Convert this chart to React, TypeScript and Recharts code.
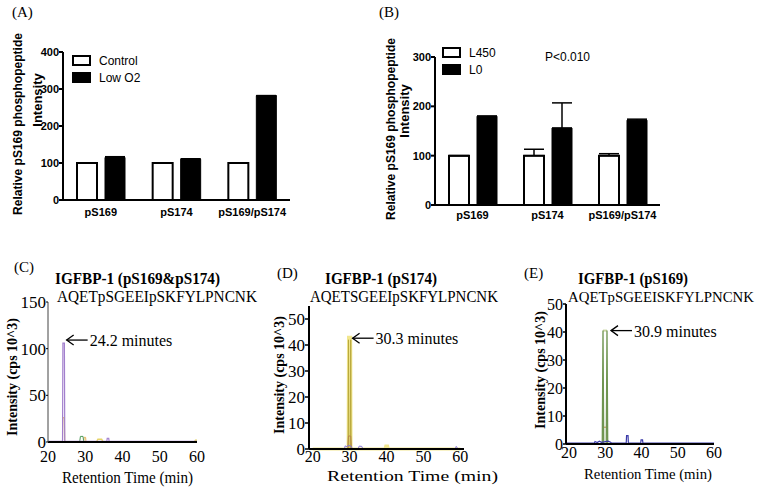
import React from "react";
import {
  BarChart,
  Bar,
  XAxis,
  YAxis,
  ErrorBar,
  Legend,
  LineChart,
  Line,
  ReferenceDot,
} from "recharts";

const SANS = '"Liberation Sans", Arial, sans-serif';
const SERIF = '"Liberation Serif", "Times New Roman", serif';

// bar panels
const BAR_CATEGORIES = ["pS169", "pS174", "pS169/pS174"];
const A_CONTROL = [100, 100, 100];
const A_LOW_O2 = [115, 110, 282];
const A_LOW_O2_ERR = [2, 1.5, 0];
const A_TICKS = [0, 100, 200, 300, 400];

const B_L450 = [100, 100, 100];
const B_L450_ERR = [0, 13, 4];
const B_L0 = [180, 156, 172];
const B_L0_ERR = [0, 51, 2];
const B_TICKS = [0, 100, 200, 300];

const SERIES_ORDER = ["control", "low", "l450", "l0"];

// chromatogram traces, [time (min), intensity (cps 10^3)]
type Pt = [number, number];
const C_PURPLE: Pt[] = [[20, 0.6], [23.9, 0.6], [24.0, 106], [24.4, 106], [24.5, 0.6], [35.8, 0.6], [35.9, 4], [36.3, 4], [36.4, 0.6], [60, 0.6]];
const C_ORANGE: Pt[] = [[20, 0], [23.9, 0], [24.0, 26], [24.4, 26], [24.5, 0], [29.6, 0], [29.7, 5], [30.1, 5], [30.2, 0], [60, 0]];
const C_GREEN: Pt[] = [[28.5, 0], [28.7, 6], [29.4, 6], [29.6, 0]];
const C_YELLOW: Pt[] = [[33, 0], [33.4, 3], [34.4, 3], [34.8, 0], [59.3, 0], [59.6, 2], [60, 2]];
const C_TICKS_X = [20, 30, 40, 50, 60];
const C_TICKS_Y = [0, 50, 100, 150];

const D_YELLOW: Pt[] = [[20, 0], [29.6, 0], [29.7, 43], [30.3, 43], [30.4, 0], [39.6, 0], [39.8, 1.2], [40.3, 1.2], [40.5, 0], [60, 0]];
const D_OLIVE: Pt[] = [[29.6, 0], [29.7, 42], [29.8, 0], [30.2, 0], [30.3, 42], [30.4, 0]];
const D_BROWN: Pt[] = [[29.5, 0], [29.7, 5], [30.3, 5], [30.5, 0]];
const D_PURPLE: Pt[] = [[28.6, 0], [28.8, 1.2], [29.3, 0.8], [29.6, 1.4], [30.4, 1.1], [30.8, 0], [32.3, 0], [32.6, 1.1], [33.3, 1.0], [33.6, 0], [58.6, 0], [58.9, 1.0], [59.4, 0]];
const D_TICKS_X = [20, 30, 40, 50, 60];
const D_TICKS_Y = [0, 10, 20, 30, 40, 50];

const E_GREEN: Pt[] = [[29.2, 0], [29.4, 40.5], [29.6, 0], [30.3, 0], [30.5, 40.5], [30.7, 0]];
const E_PALE: Pt[] = [[29.4, 40.5], [30.5, 40.5]];
const E_ORANGE: Pt[] = [[29.3, 0], [29.5, 6], [30.4, 6], [30.6, 0]];
const E_BLUE: Pt[] = [[19.2, 0.3], [27, 0.3], [27.2, 0.9], [27.8, 0.5], [28.4, 1.0], [29, 0.6], [30.8, 1.0], [31.5, 0.6], [31.8, 0.3], [35.8, 0.3], [35.9, 3], [36.3, 3], [36.4, 0.3], [39.8, 0.3], [39.9, 1.5], [40.3, 1.5], [40.4, 0.3], [60, 0.3]];
const E_TICKS_X = [20, 30, 40, 50, 60];
const E_TICKS_Y = [0, 10, 20, 30, 40, 50];

const toRows = (pts: Pt[]) => pts.map(([t, v]) => ({ t, v }));

const aRows = BAR_CATEGORIES.map((cat, i) => ({
  cat,
  control: A_CONTROL[i],
  low: A_LOW_O2[i],
  lowErr: [0, A_LOW_O2_ERR[i]],
}));

const bRows = BAR_CATEGORIES.map((cat, i) => ({
  cat,
  l450: B_L450[i],
  l450Err: [0, B_L450_ERR[i]],
  l0: B_L0[i],
  l0Err: [0, B_L0_ERR[i]],
}));

const barTick = { fill: "#000", fontSize: 11, fontWeight: 700, fontFamily: SANS };

const renderLegend = (props: any) => (
  <div>
    {(props.payload || []).map((e: any) => (
      <div key={e.value} style={{ display: "flex", alignItems: "center", height: 17 }}>
        <svg width={19} height={11}>
          <rect x={1} y={1} width={17} height={9} fill={e.color} stroke="#000" strokeWidth={2} />
        </svg>
        <span style={{ marginLeft: 8, fontSize: 12, fontFamily: SANS, color: "#000" }}>{e.value}</span>
      </div>
    ))}
  </div>
);

const legendSort = (item: any) => SERIES_ORDER.indexOf(item.dataKey);

const arrowNote = (label: string, dx: number, dy: number) => (p: any) => {
  const x = p.cx + dx;
  const y = p.cy + dy;
  return (
    <g>
      <line x1={x} y1={y} x2={x + 21} y2={y} stroke="#000" strokeWidth={1.3} />
      <polyline points={`${x + 7},${y - 5} ${x},${y} ${x + 7},${y + 5}`} fill="none" stroke="#000" strokeWidth={1.3} />
      <text x={x + 23} y={y + 6} fontSize={16} fontFamily={SERIF} fill="#000">
        {label}
      </text>
    </g>
  );
};

const chromTick = (size: number) => ({ fill: "#000", fontSize: size, fontFamily: SERIF });

const trace = (pts: Pt[], color: string, width = 1) => (
  <Line
    data={toRows(pts)}
    dataKey="v"
    type="linear"
    stroke={color}
    strokeWidth={width}
    dot={false}
    isAnimationActive={false}
  />
);

export default function App() {
  return (
    <div style={{ position: "absolute", left: 0, top: 0, width: 762, height: 492, background: "#fff", overflow: "hidden" }}>
      {/* (A) */}
      <div style={{ position: "absolute", left: 0, top: 0 }}>
        <BarChart width={300} height={230} data={aRows} margin={{ top: 52, right: 10, bottom: 0, left: 0 }} barSize={20} barGap={8}>
          <XAxis dataKey="cat" tickLine={false} axisLine={{ stroke: "#000", strokeWidth: 2 }} tick={barTick} height={30} interval={0} />
          <YAxis width={63} domain={[0, 400]} ticks={A_TICKS} tickSize={4} tickMargin={0} axisLine={{ stroke: "#000", strokeWidth: 2 }} tickLine={{ stroke: "#000", strokeWidth: 2 }} tick={barTick} />
          <Legend layout="vertical" align="center" verticalAlign="middle" itemSorter={legendSort} content={renderLegend} wrapperStyle={{ left: 72, top: 52, width: 110 }} />
          <Bar dataKey="control" name="Control" fill="#fff" stroke="#000" strokeWidth={2} isAnimationActive={false} />
          <Bar dataKey="low" name="Low O2" fill="#000" stroke="#000" strokeWidth={1} isAnimationActive={false}>
            <ErrorBar dataKey="lowErr" width={10} stroke="#000" strokeWidth={1.5} direction="y" />
          </Bar>
        </BarChart>
      </div>

      {/* (B) */}
      <div style={{ position: "absolute", left: 380, top: 0 }}>
        <BarChart width={290} height={230} data={bRows} margin={{ top: 57, right: 10, bottom: 0, left: 0 }} barSize={20} barGap={8}>
          <XAxis dataKey="cat" tickLine={false} tickMargin={0} axisLine={{ stroke: "#000", strokeWidth: 2 }} tick={barTick} height={25} interval={0} />
          <YAxis width={55} domain={[0, 300]} ticks={B_TICKS} tickSize={4} tickMargin={0} axisLine={{ stroke: "#000", strokeWidth: 2 }} tickLine={{ stroke: "#000", strokeWidth: 2 }} tick={barTick} />
          <Legend layout="vertical" align="center" verticalAlign="middle" itemSorter={legendSort} content={renderLegend} wrapperStyle={{ left: 62, top: 44, width: 90 }} />
          <Bar dataKey="l450" name="L450" fill="#fff" stroke="#000" strokeWidth={2} isAnimationActive={false}>
            <ErrorBar dataKey="l450Err" width={10} stroke="#000" strokeWidth={1.5} direction="y" />
          </Bar>
          <Bar dataKey="l0" name="L0" fill="#000" stroke="#000" strokeWidth={1} isAnimationActive={false}>
            <ErrorBar dataKey="l0Err" width={10} stroke="#000" strokeWidth={1.5} direction="y" />
          </Bar>
        </BarChart>
      </div>

      {/* (C) */}
      <div style={{ position: "absolute", left: 0, top: 260 }}>
        <LineChart width={210} height={230} margin={{ top: 42, right: 13, bottom: 0, left: 0 }}>
          <XAxis dataKey="t" type="number" domain={[20, 60]} ticks={C_TICKS_X} tickLine={false} tickMargin={3} axisLine={{ stroke: "#000", strokeWidth: 2 }} tick={chromTick(16)} height={48} allowDataOverflow />
          <YAxis type="number" width={48} domain={[0, 150]} ticks={C_TICKS_Y} tickSize={2} tickMargin={0} axisLine={{ stroke: "#444", strokeWidth: 1 }} tickLine={{ stroke: "#000" }} tick={chromTick(17)} />
          {trace(C_ORANGE, "#e3b45a")}
          {trace(C_GREEN, "#4f9a5a")}
          {trace(C_YELLOW, "#e6d46a", 1.5)}
          {trace(C_PURPLE, "#a27fcd", 1.2)}
          <ReferenceDot x={24.2} y={106} r={0} ifOverflow="visible" shape={arrowNote("24.2 minutes", 3, -3)} />
        </LineChart>
      </div>

      {/* (D) */}
      <div style={{ position: "absolute", left: 260, top: 260 }}>
        <LineChart width={215} height={230} margin={{ top: 46, right: 11, bottom: 0, left: 0 }}>
          <XAxis dataKey="t" type="number" domain={[19, 61]} ticks={D_TICKS_X} tickLine={false} tickSize={2} tickMargin={0} axisLine={{ stroke: "#000", strokeWidth: 2 }} tick={chromTick(16)} height={41} allowDataOverflow />
          <YAxis type="number" width={49} domain={[0, 55]} ticks={D_TICKS_Y} tickSize={4} tickMargin={0} axisLine={{ stroke: "#000", strokeWidth: 2 }} tickLine={{ stroke: "#000", strokeWidth: 1.5 }} tick={chromTick(17)} />
          {trace(D_YELLOW, "#f1e68e", 3)}
          {trace(D_OLIVE, "#b9a93e")}
          {trace(D_BROWN, "#b88a4a")}
          {trace(D_PURPLE, "#8877d6")}
          <ReferenceDot x={30} y={43} r={0} ifOverflow="visible" shape={arrowNote("30.3 minutes", 3, 1)} />
        </LineChart>
      </div>

      {/* (E) */}
      <div style={{ position: "absolute", left: 510, top: 260 }}>
        <LineChart width={230} height={230} margin={{ top: 44, right: 26, bottom: 0, left: 0 }}>
          <XAxis dataKey="t" type="number" domain={[19.2, 60]} ticks={E_TICKS_X} tickLine={false} tickSize={3} tickMargin={0} axisLine={{ stroke: "#000", strokeWidth: 2 }} tick={chromTick(16)} height={46} allowDataOverflow />
          <YAxis type="number" width={56} domain={[0, 50]} ticks={E_TICKS_Y} tickSize={3} tickMargin={0} axisLine={{ stroke: "#000", strokeWidth: 2 }} tickLine={{ stroke: "#000", strokeWidth: 1.5 }} tick={chromTick(16)} />
          {trace(E_ORANGE, "#c98d4a")}
          {trace(E_PALE, "#c8d4a0", 2)}
          {trace(E_GREEN, "#6f9550", 1.3)}
          {trace(E_BLUE, "#3a3aa8", 1.2)}
          <ReferenceDot x={30.5} y={40.5} r={0} ifOverflow="visible" shape={arrowNote("30.9 minutes", 4, 0)} />
        </LineChart>
      </div>

      {/* labels and titles */}
      <svg width={762} height={492} style={{ position: "absolute", left: 0, top: 0, pointerEvents: "none" }}>
        <g fontFamily={SERIF} fontSize={15} fill="#000">
          <text x={12} y={17}>(A)</text>
          <text x={379} y={17}>(B)</text>
          <text x={14} y={272}>(C)</text>
          <text x={277} y={278}>(D)</text>
          <text x={524} y={278}>(E)</text>
        </g>
        <g fontFamily={SANS} fontSize={13} fontWeight={700} fill="#000" textAnchor="middle">
          <text transform="translate(17,124) rotate(-90)" dominantBaseline="central" textLength={182} lengthAdjust="spacingAndGlyphs">Relative pS169 phosphopeptide</text>
          <text transform="translate(37,100) rotate(-90)" dominantBaseline="central">Intensity</text>
          <text transform="translate(390,129) rotate(-90)" dominantBaseline="central" textLength={182} lengthAdjust="spacingAndGlyphs">Relative pS169 phosphopeptide</text>
          <text transform="translate(404,111) rotate(-90)" dominantBaseline="central">Intensity</text>
        </g>
        <text x={545} y={61} fontFamily={SANS} fontSize={12} fill="#000">P&lt;0.010</text>
        <g fontFamily={SERIF} fill="#000">
          <text x={55} y={284} fontSize={16} fontWeight={700} textLength={165} lengthAdjust="spacingAndGlyphs">IGFBP-1 (pS169&amp;pS174)</text>
          <text x={57} y={302} fontSize={16} textLength={200} lengthAdjust="spacingAndGlyphs">AQETpSGEEIpSKFYLPNCNK</text>
          <text x={325} y={284} fontSize={16} fontWeight={700} textLength={112} lengthAdjust="spacingAndGlyphs">IGFBP-1 (pS174)</text>
          <text x={310} y={302} fontSize={16} textLength={188} lengthAdjust="spacingAndGlyphs">AQETSGEEIpSKFYLPNCNK</text>
          <text x={578} y={284} fontSize={16} fontWeight={700} textLength={110} lengthAdjust="spacingAndGlyphs">IGFBP-1 (pS169)</text>
          <text x={568} y={302} fontSize={15} textLength={186} lengthAdjust="spacingAndGlyphs">AQETpSGEEISKFYLPNCNK</text>
          <text x={62} y={483} fontSize={16} textLength={131} lengthAdjust="spacingAndGlyphs">Retention Time (min)</text>
          <text x={327} y={481} fontSize={15} textLength={171} lengthAdjust="spacingAndGlyphs">Retention Time (min)</text>
          <text x={584} y={479} fontSize={15} textLength={128} lengthAdjust="spacingAndGlyphs">Retention Time (min)</text>
        </g>
        <g fontFamily={SERIF} fontSize={14} fontWeight={700} fill="#000" textAnchor="middle">
          <text transform="translate(12,377) rotate(-90)" dominantBaseline="central">Intensity (cps 10^3)</text>
          <text transform="translate(279,375) rotate(-90)" dominantBaseline="central">Intensity (cps 10^3)</text>
          <text transform="translate(540,370) rotate(-90)" dominantBaseline="central">Intensity (cps 10^3)</text>
        </g>
      </svg>
    </div>
  );
}
